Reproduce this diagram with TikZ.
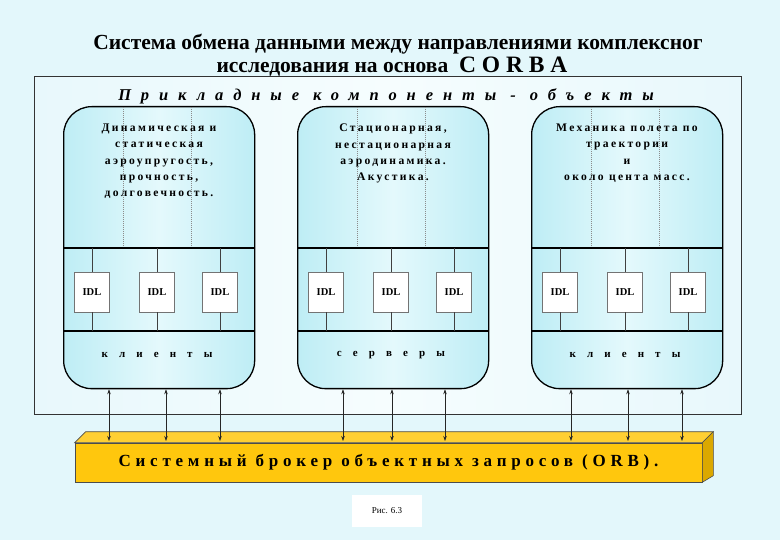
\documentclass[tikz,border=0pt]{standalone}
\usepackage{fontspec}
\setmainfont{Liberation Serif}
\newfontfamily\spacedfont[LetterSpace=20]{Liberation Serif Bold}
\newfontfamily\widefont[LetterSpace=76]{Liberation Serif Bold}
\newfontfamily\layerfont[LetterSpace=60]{Liberation Serif Bold Italic}
\newfontfamily\orbfont[LetterSpace=28]{Liberation Serif Bold}
\usetikzlibrary{arrows.meta,calc,positioning}
\definecolor{pagebg}{HTML}{E3F7FB}
\definecolor{frameleft}{HTML}{E8F8FC}
\definecolor{framemid}{HTML}{F6FDFE}
\definecolor{compcyan}{HTML}{BEEDF5}
\definecolor{complight}{HTML}{E4F9FC}
\definecolor{orbfront}{HTML}{FFC70D}
\definecolor{orbtop}{HTML}{FFCF33}
\definecolor{orbside}{HTML}{DBA800}

\begin{document}
\begin{tikzpicture}[x=1pt,y=-1pt,>=Stealth,
  titletext/.style={inner sep=0pt,font=\bfseries\fontsize{21.5}{24}\selectfont},
  compbox/.style={draw=black,line width=1.3pt,rounded corners=28pt,minimum width=191pt,minimum height=282pt,
    left color=compcyan,right color=compcyan,middle color=complight,inner sep=0pt,anchor=north west},
  idlbox/.style={draw=black!55,fill=white,minimum width=35pt,minimum height=40pt,inner sep=0pt,font=\bfseries\fontsize{10.5}{12}\selectfont},
  comptext/.style={align=center,anchor=north,inner sep=0pt,font=\spacedfont\fontsize{11.6}{16.2}\selectfont},
  roletext/.style={inner sep=0pt,font=\widefont\fontsize{11}{13}\selectfont},
  bandline/.style={black,line width=1.1pt},
  stemline/.style={black!75,line width=0.6pt},
  dotline/.style={black!45,line width=0.4pt,dash pattern=on 1pt off 1pt},
  dblarrow/.style={{Stealth[length=5pt,width=3.5pt]}-{Stealth[length=5pt,width=3.5pt]},black!85,line width=0.6pt},
  orbbox/.style={fill=orbfront,draw=black!70,line width=0.6pt,minimum width=627pt,minimum height=39pt,inner sep=0pt,
    font=\orbfont\fontsize{17}{20}\selectfont}]
\useasboundingbox[fill=pagebg] (0,0) rectangle (780,540);
% title
\node[titletext,anchor=base] (title1) at (398,50) {Система обмена данными между направлениями комплексног};
\node[titletext,anchor=base] (title2) at (392,73) {исследования на основа\ \ {\fontsize{23.5}{26}\selectfont C O R B A}};
% frame of application layer
\draw[draw=black!80,line width=1pt,left color=frameleft,right color=frameleft,middle color=framemid] (34,77) rectangle (741,414);
\node[font=\layerfont\fontsize{16.5}{18}\selectfont] (layer) at (386,96) {Прикладные компоненты - объекты};
% three components
\foreach \nm/\xl/\txt/\role in {
  c1/63/{Динамическая и\\статическая\\аэроупругость,\\прочность,\\долговечность.}/{к л и е н т ы},
  c2/297/{Стационарная,\\нестационарная\\аэродинамика.\\Акустика.}/{с е р в е р ы},
  c3/531/{Механика полета по\\траектории\\и\\около цента масс.}/{к л и е н т ы}}{
  \node[compbox] (\nm) at (\xl,106) {};
  \draw[dotline] (\xl+60,107) -- (\xl+60,248);
  \draw[dotline] (\xl+128,107) -- (\xl+128,248);
  \coordinate (\nm-a) at (\xl,248);
  \coordinate (\nm-b) at (\xl,331);
  \draw[bandline] (\nm-a) -- ++(191,0);
  \draw[bandline] (\nm-b) -- ++(191,0);
  \foreach \k/\dx in {1/29,2/94,3/157}{
    \node[idlbox] (\nm-i\k) at (\xl+\dx,292) {IDL};
    \draw[stemline] (\nm-i\k.north) -- (\nm-i\k.north |- \nm-a);
    \draw[stemline] (\nm-i\k.south) -- (\nm-i\k.south |- \nm-b);
  }
  \node[comptext] (\nm-t) at (\xl+96,124) {\txt};
  \node[roletext] (\nm-r) at (\xl+94,355) {\role};
}
% object request broker
\node[orbbox] (orb) at (388.5,462.5) {Системный брокер объектных запросов (ORB).};
\filldraw[fill=orbtop,draw=black!70,line width=0.6pt] (orb.north west) -- ++(11,-11) -- ($(orb.north east)+(11,-11)$) -- (orb.north east) -- cycle;
\filldraw[fill=orbside,draw=black!70,line width=0.6pt] (orb.north east) -- ++(11,-11) -- ++(0,44) -- (orb.south east) -- cycle;
\foreach \nm/\x [count=\i] in {c1/109,c1/166,c1/220,c2/343,c2/392,c2/445,c3/571,c3/628,c3/682}{
  \coordinate (ar\i) at (\x,441);
  \draw[dblarrow] (\nm.south -| ar\i) -- (ar\i);
}
\node[fill=white,minimum width=70pt,minimum height=32pt,font=\fontsize{9}{11}\selectfont] (fig) at (387,511) {Рис. 6.3};
\end{tikzpicture}
\end{document}
